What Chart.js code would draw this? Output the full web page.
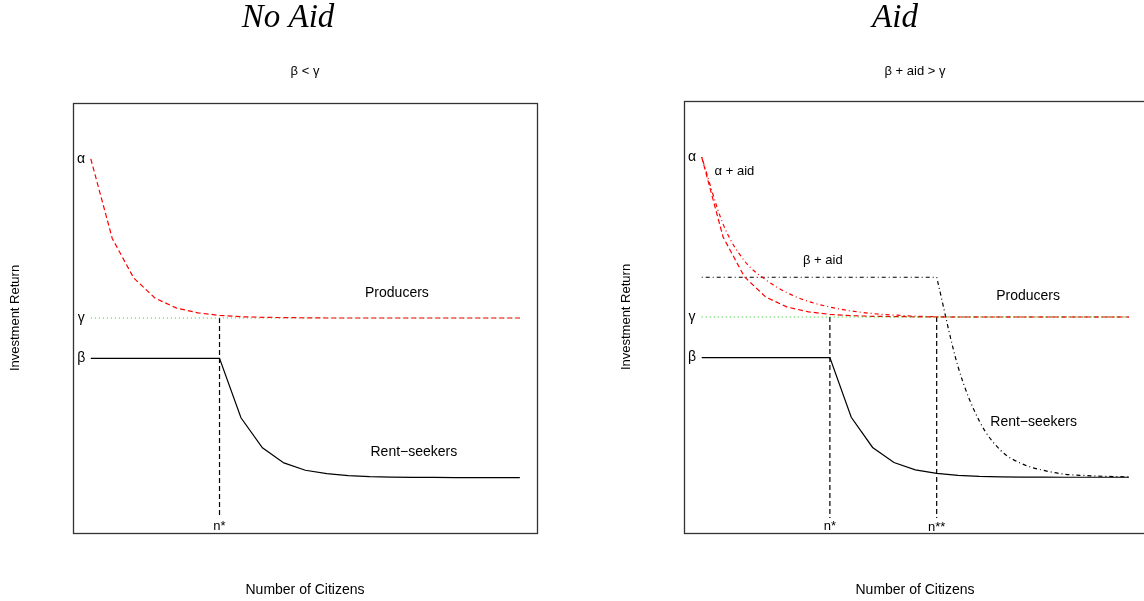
<html>
<head>
<meta charset="utf-8">
<script src="https://cdn.jsdelivr.net/npm/chart.js@4.4.1/dist/chart.umd.min.js"></script>
<style>
  body { margin: 0; background: #fff; overflow: hidden; width: 1144px; height: 601px; position: relative; }
  canvas { position: absolute; top: 0; }
  #left { left: 0; }
  #right { left: 572px; }
</style>
</head>
<body>
<canvas id="left" width="572" height="601"></canvas>
<canvas id="right" width="600" height="601"></canvas>
<script>
// number of citizens (index) and investment returns
var citizens = [0,1,2,3,4,5,6,7,8,9,10,11,12,13,14,15,16,17,18,19,20];
var producers = [87,68.5,59.3,54.6,52.3,51.2,50.6,50.3,50.15,50.1,50.05,50,50,50,50,50,50,50,50,50,50];
var rentSeekers = [40.6,40.6,40.6,40.6,40.6,40.6,40.6,26.8,19.8,16.3,14.6,13.8,13.35,13.1,13.0,12.95,12.92,12.9,12.9,12.9,12.9];
var alphaAid = [87,71.5,63.0,58.6,55.6,53.6,52.3,51.4,50.8,50.45,50.2,50.05,50,50,50,50,50,50,50,50,50];
var betaAid = [59.2,59.2,59.2,59.2,59.2,59.2,59.2,59.2,59.2,59.2,59.2,59.2,38.5,25.9,19.1,16.0,14.5,13.6,13.3,13.1,13.0];
var gammaX = [0,20];
var gammaY = [50,50];
var alpha = 87, beta = 40.6, gamma = 50;
var nStar = 6, nStarStar = 11;

// text labels placed in data units (text, x, y, font size)
var leftNotes = [
  ['α', -0.45, alpha, 14], ['γ', -0.45, gamma, 14], ['β', -0.45, beta, 14],
  ['Producers', 14.27, 55.75, 14], ['Rent\u2212seekers', 15.06, 18.9, 14], ['n*', nStar, 1.6, 13]
];
var rightNotes = [
  ['α', -0.45, alpha, 14], ['γ', -0.45, gamma, 14], ['β', -0.45, beta, 14],
  ['α + aid', 1.53, 83.6, 13], ['β + aid', 5.67, 63, 13],
  ['Producers', 15.28, 54.8, 14], ['Rent\u2212seekers', 15.54, 25.6, 14],
  ['n*', nStar, 1.6, 13], ['n**', nStarStar, 1.3, 13]
];

function pts(xs, ys) {
  return xs.map(function (x, i) { return { x: x, y: ys[i] }; });
}

function line(data, color, dash, smooth) {
  return {
    data: data,
    borderColor: color,
    borderWidth: 1.2,
    borderDash: dash,
    pointRadius: 0,
    fill: false,
    tension: 0,
    cubicInterpolationMode: smooth ? 'monotone' : 'default'
  };
}

var DASH = [5, 3], DOT = [1, 3], DASHDOT = [1, 3, 4, 3];

function decor(title, titleShift, subtitle, notes, ylabX) {
  return {
    id: 'decor',
    afterDraw: function (chart) {
      var ctx = chart.ctx, a = chart.chartArea;
      var xs = chart.scales.x, ys = chart.scales.y;
      var cx = (a.left + a.right) / 2;
      ctx.save();
      ctx.strokeStyle = '#333';
      ctx.lineWidth = 1.3;
      ctx.setLineDash([]);
      ctx.strokeRect(Math.round(a.left) + 0.5, Math.round(a.top) + 0.5,
        Math.round(a.right - a.left), Math.round(a.bottom - a.top));

      ctx.fillStyle = '#000';
      ctx.textAlign = 'center';
      ctx.textBaseline = 'alphabetic';
      ctx.font = 'italic 33px "Liberation Serif"';
      ctx.fillText(title, cx - titleShift, 27);
      ctx.font = '13px "Liberation Sans"';
      ctx.fillText(subtitle, cx, 75);

      ctx.textBaseline = 'middle';
      ctx.font = '14px "Liberation Sans"';
      ctx.fillText('Number of Citizens', cx, 590);
      ctx.save();
      ctx.translate(ylabX, (a.top + a.bottom) / 2);
      ctx.rotate(-Math.PI / 2);
      ctx.font = '13px "Liberation Sans"';
      ctx.fillText('Investment Return', 0, 0);
      ctx.restore();

      notes.forEach(function (n) {
        ctx.font = n[3] + 'px "Liberation Sans"';
        ctx.fillText(n[0], xs.getPixelForValue(n[1]), ys.getPixelForValue(n[2]));
      });
      ctx.restore();
    }
  };
}

function makeChart(id, datasets, pad, plugin) {
  return new Chart(document.getElementById(id), {
    type: 'line',
    data: { datasets: datasets },
    options: {
      responsive: false,
      animation: false,
      layout: { padding: pad },
      scales: {
        x: { type: 'linear', min: -0.83, max: 20.8, display: false },
        y: { type: 'linear', min: 0, max: 100, display: false }
      },
      plugins: { legend: { display: false }, tooltip: { enabled: false } }
    },
    plugins: [plugin]
  });
}

makeChart('left', [
  line(pts(gammaX, gammaY), '#22cc22', DOT),
  line(pts(citizens, producers), '#ff0000', DASH),
  line(pts(citizens, rentSeekers), '#000', []),
  line(pts([nStar, nStar], [gamma, 3.5]), '#000', DASH)
], { left: 73, right: 35, top: 103, bottom: 68 },
  decor('No Aid', 17, 'β < γ', leftNotes, 15));

makeChart('right', [
  line(pts(gammaX, gammaY), '#22cc22', DOT),
  line(pts(citizens, producers), '#ff0000', DASH),
  line(pts(citizens, alphaAid), '#ff0000', DASHDOT, true),
  line(pts(citizens.slice(0, 12), betaAid.slice(0, 12)), '#000', DASHDOT),
  line(pts(citizens.slice(11), betaAid.slice(11)), '#000', DASHDOT, true),
  line(pts(citizens, rentSeekers), '#000', []),
  line(pts([nStar, nStar], [gamma, 3.5]), '#000', DASH),
  line(pts([nStarStar, nStarStar], [gamma, 3.5]), '#000', DASH)
], { left: 112, right: 26, top: 101, bottom: 68 },
  decor('Aid', 20, 'β + aid > γ', rightNotes, 54));
</script>
</body>
</html>
